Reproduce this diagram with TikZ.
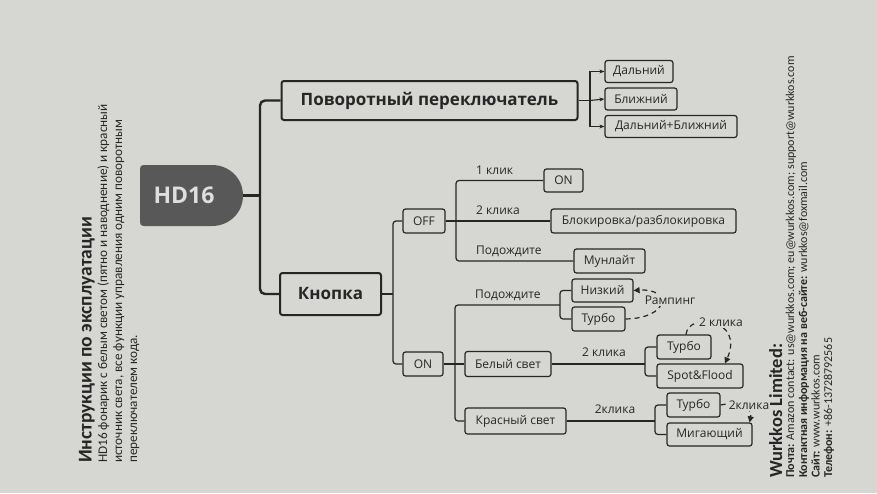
\documentclass[tikz,border=0pt]{standalone}
\usepackage{fontspec}
\setmainfont{Open Sans}
\newfontfamily\carl{Carlito}
\usetikzlibrary{arrows.meta}
\definecolor{bg}{RGB}{214,214,211}
\definecolor{ink}{RGB}{38,38,38}
\definecolor{hdfill}{RGB}{88,88,88}
\definecolor{hdtext}{RGB}{222,222,222}
\begin{document}
\begin{tikzpicture}[x=1pt,y=-1pt,
  box/.style={draw=ink, line width=1.2pt, rounded corners=2.5pt, inner sep=0pt, text=ink, font=\fontsize{12}{14}\selectfont},
  bigbox/.style={box, line width=2pt, font=\fontsize{17}{20}\selectfont\bfseries},
  conn/.style={draw=ink, line width=1.2pt, rounded corners=3pt},
  mainconn/.style={draw=ink, line width=2.4pt, rounded corners=5pt},
  lbl/.style={text=ink, font=\fontsize{12}{14}\selectfont, inner sep=0pt},
  maskl/.style={lbl, fill=bg, inner sep=1.5pt},
  dasharr/.style={draw=ink, line width=1.2pt, dash pattern=on 5pt off 4pt, -{Triangle[length=6pt,width=6pt]}},
  arr/.style={draw=ink, line width=1.1pt, -{Stealth[length=5pt,width=4pt]}},
  vtext/.style={rotate=90, anchor=base west, inner sep=0pt, text=ink},
]
\fill[bg] (0,0) rectangle (877,493);
\useasboundingbox (0,0) rectangle (877,493);

% HD16
\fill[hdfill] (144,165) -- (212,165) .. controls (229,165) and (243,178) .. (243,195.5)
  .. controls (243,213) and (229,226) .. (212,226) -- (144,226)
  .. controls (141,226) and (140,225) .. (140,222) -- (140,169)
  .. controls (140,166) and (141,165) .. (144,165) -- cycle;
\node[inner sep=0pt, text=hdtext, font=\fontsize{23}{23}\selectfont\bfseries] (hd) at (184,195.5) {HD16};
\coordinate (hdE) at (243,195.5);

% level 1
\node[bigbox, minimum width=296, minimum height=39] (p) at (429.5,100.5) {Поворотный переключатель};
\node[bigbox, minimum width=101, minimum height=42] (k) at (330.5,294) {Кнопка};
\coordinate (j0) at (260,195.5);
\draw[mainconn] (hdE) -- (j0);
\draw[mainconn] (p.west) -| (j0) |- (k.west);

% rotary
\node[box, minimum width=68, minimum height=22] (d1) at (639,71.5) {Дальний};
\node[box, minimum width=72, minimum height=22] (d2) at (641,99) {Ближний};
\node[box, minimum width=132, minimum height=22] (d3) at (671,126.5) {Дальний+Ближний};
\coordinate (j1) at (590,100.5);
\draw[draw=ink, line width=1.1pt] (p.east) -- (j1);
\draw[arr] (j1) |- (d1.west);
\draw[arr] (j1) -- (d2.west);
\draw[arr] (j1) |- (d3.west);

% button
\node[box, minimum width=42, minimum height=24] (off) at (424,221) {OFF};
\node[box, minimum width=40, minimum height=24] (on) at (423,364) {ON};
\coordinate (j2) at (393,294);
\draw[conn] (k.east) -- (j2);
\draw[conn] (off.west) -| (j2) |- (on.west);

% OFF subtree
\node[box, minimum width=39, minimum height=23] (on1) at (563.5,180.5) {ON};
\node[box, minimum width=185, minimum height=24] (blk) at (643.5,221) {Блокировка/разблокировка};
\node[box, minimum width=71, minimum height=24] (mun) at (609.5,261) {Мунлайт};
\coordinate (j3) at (456,221);
\draw[conn] (off.east) -- (j3) -- (blk.west);
\draw[conn] (on1.west) -| (j3) |- (mun.west);
\node[lbl, anchor=base west] (l1) at (476,174) {1 клик};
\node[lbl, anchor=base west] (l2) at (476,214) {2 клика};
\node[lbl, anchor=base west] (l3) at (476,254) {Подождите};

% ON subtree
\node[box, minimum width=61, minimum height=23] (nizk) at (602.5,290.5) {Низкий};
\node[box, minimum width=53, minimum height=24] (tur1) at (598.5,319) {Турбо};
\node[box, minimum width=86, minimum height=25] (bel) at (508,364) {Белый свет};
\node[box, minimum width=54, minimum height=24] (tur2) at (684,347) {Турбо};
\node[box, minimum width=86, minimum height=24] (spot) at (700,376) {Spot\&Flood};
\node[box, minimum width=101, minimum height=26] (kr) at (515.5,421) {Красный свет};
\node[box, minimum width=53, minimum height=24] (tur3) at (693.5,405) {Турбо};
\node[box, minimum width=85, minimum height=23] (mig) at (709.5,434.5) {Мигающий};

\coordinate (j4) at (455,364);
\coordinate (j5) at (560,305);
\draw[conn] (on.east) -- (bel.west);
\draw[conn] (j5) -| (j4) |- (kr.west);
\draw[conn] (nizk.west) -| (j5) |- (tur1.west);
\node[lbl, anchor=base west] (l4) at (475,298) {Подождите};

\coordinate (j6) at (645,364);
\draw[conn] (bel.east) -- (j6);
\draw[conn] (tur2.west) -| (j6) |- (spot.west);
\node[lbl, anchor=base] (l5) at (604,356) {2 клика};

\coordinate (j7) at (655,421);
\draw[conn] (kr.east) -- (j7);
\draw[conn] (tur3.west) -| (j7) |- (mig.west);
\node[lbl, anchor=base] (l6) at (615,413) {2клика};

% dashed arrows
\draw[dasharr] (tur1.east) .. controls (670,318) and (672,288) .. (nizk.east);
\node[maskl] (ramp) at (670,300) {Рампинг};
\draw[dasharr] ([xshift=2pt]tur2.north) .. controls (688,312) and (745,318) .. ([xshift=25pt]spot.north);
\node[maskl] (kl2) at (721,322) {2 клика};
\draw[dasharr] (tur3.east) .. controls (745,400) and (752,410) .. ([xshift=-3pt]mig.north east);
\node[maskl] (kl3) at (749,405) {2клика};

% left text
\node[vtext, font=\carl\fontsize{19.5}{19.5}\selectfont\bfseries] (t0) at (91.5,463) {Инструкции по эксплуатации};
\node[vtext, font=\carl\fontsize{13.2}{13.2}\selectfont] (t1) at (107,463) {HD16 фонарик с белым светом (пятно и наводнение) и красный};
\node[vtext, font=\carl\fontsize{13.2}{13.2}\selectfont] (t2) at (122,463) {источник света, все функции управления одним поворотным};
\node[vtext, font=\carl\fontsize{13.2}{13.2}\selectfont] (t3) at (137,463) {переключателем кода.};

% right text
\node[vtext, font=\carl\fontsize{18.5}{18.5}\selectfont\bfseries] (r0) at (782,478) {Wurkkos Limited:};
\node[vtext, font=\carl\fontsize{12}{12}\selectfont] (r1) at (794,478) {\textbf{Почта:} Amazon contact: us@wurkkos.com; eu@wurkkos.com; support@wurkkos.com};
\node[vtext, font=\carl\fontsize{12}{12}\selectfont] (r2) at (807,478) {\textbf{Контактная информация на веб-сайте:} wurkkos@foxmail.com};
\node[vtext, font=\carl\fontsize{12}{12}\selectfont] (r3) at (819.5,478) {\textbf{Сайт:} www.wurkkos.com};
\node[vtext, font=\carl\fontsize{12}{12}\selectfont] (r4) at (832,478) {\textbf{Телефон:} +86-13728792565};
\end{tikzpicture}
\end{document}
